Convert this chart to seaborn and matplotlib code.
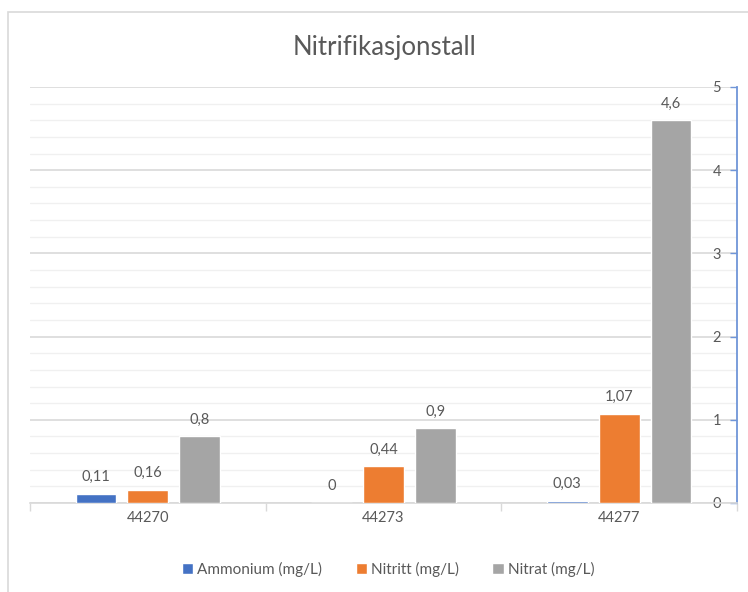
import matplotlib
matplotlib.use("Agg")
import matplotlib.pyplot as plt
from matplotlib.patches import Rectangle
from matplotlib.ticker import MultipleLocator, FixedLocator
import seaborn as sns
import pandas as pd

# Sampling dates (Excel serial numbers) and measured concentrations
dates = ["44270", "44273", "44277"]
ammonium = [0.11, 0.0, 0.03]
nitritt = [0.16, 0.44, 1.07]
nitrat = [0.8, 0.9, 4.6]
series_names = ["Ammonium (mg/L)", "Nitritt (mg/L)", "Nitrat (mg/L)"]
y_ticks = [0, 1, 2, 3, 4, 5]

colors = ["#4472C4", "#ED7D31", "#A5A5A5"]
text_color = "#595959"

df = pd.DataFrame({
    "dato": dates * 3,
    "verdi": ammonium + nitritt + nitrat,
    "serie": [series_names[0]] * 3 + [series_names[1]] * 3 + [series_names[2]] * 3,
})

sns.set_theme(style="white")
plt.rcParams["font.family"] = ["Lato", "DejaVu Sans"]

fig = plt.figure(figsize=(7.48, 5.92), dpi=100)
ax = fig.add_axes([30 / 748, 1 - 503 / 592, (737 - 30) / 748, (503 - 87) / 592])

sns.barplot(data=df, x="dato", y="verdi", hue="serie", hue_order=series_names,
            palette=colors, width=0.66, gap=0.21, saturation=1, ax=ax,
            legend=True, errorbar=None, zorder=3)

ax.set_xlim(-0.5, 2.5)
ax.set_ylim(0, 5)
ax.set_xlabel("")
ax.set_ylabel("")

# gridlines: major every 1, minor every 0.2
ax.yaxis.set_major_locator(FixedLocator(y_ticks))
ax.yaxis.set_minor_locator(MultipleLocator(0.2))
ax.set_axisbelow(True)
ax.grid(axis="y", which="major", color="#D9D9D9", linewidth=1.2)
ax.grid(axis="y", which="minor", color="#F0F0F0", linewidth=1.0)
ax.grid(axis="x", visible=False)

# value axis on the right edge, labels drawn inside the plot area
ax.yaxis.tick_right()
ax.tick_params(axis="y", which="major", direction="in", length=5, width=1,
               color="#6F95D8", pad=-14.5, labelsize=10.5, labelcolor=text_color,
               right=True, left=False)
ax.tick_params(axis="y", which="minor", length=0, right=False, left=False)
ax.set_yticklabels([str(t) for t in y_ticks])
for lab in ax.get_yticklabels():
    lab.set_horizontalalignment("center")

# category axis with boundary ticks
ax.xaxis.set_minor_locator(FixedLocator([-0.5, 0.5, 1.5, 2.5]))
ax.tick_params(axis="x", which="major", length=0, pad=6, labelsize=10.5,
               labelcolor=text_color, bottom=True)
ax.tick_params(axis="x", which="minor", direction="out", length=6, width=1,
               color="#D9D9D9", bottom=True)

for side in ["top", "left"]:
    ax.spines[side].set_visible(False)
ax.spines["bottom"].set_color("#D9D9D9")
ax.spines["bottom"].set_linewidth(1.2)
ax.spines["right"].set_color("#6F95D8")
ax.spines["right"].set_linewidth(1.3)

# data labels with decimal comma
for cont in ax.containers:
    ax.bar_label(cont, fmt=lambda v: f"{v:g}".replace(".", ","), padding=7,
                 fontsize=10.5, color=text_color)

# legend below the chart
handles, labels = ax.get_legend_handles_labels()
ax.legend(handles, labels, loc="center", bbox_to_anchor=(388 / 748, 1 - 569 / 592),
          bbox_transform=fig.transFigure, ncol=3, frameon=False, fontsize=11,
          handlelength=0.75, handleheight=0.75, handletextpad=0.25,
          columnspacing=2.2, labelcolor=text_color)

fig.text(384 / 748, 1 - 47 / 592, "Nitrifikasjonstall", ha="center", va="center",
         fontsize=18.5, color=text_color)

# chart area border
fig.patches.append(Rectangle((8 / 748, -0.05), 1.1, 1 - 12 / 592 + 0.05,
                             transform=fig.transFigure, fill=False,
                             edgecolor="#D9D9D9", linewidth=1.2))

fig.savefig("out.png", dpi=100)
